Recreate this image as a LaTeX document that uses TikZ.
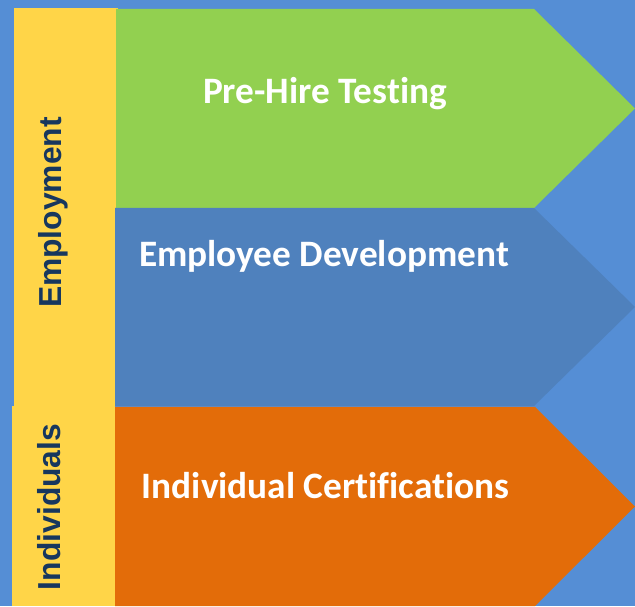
\documentclass[tikz,border=0pt]{standalone}
\usepackage{fontspec}
\setmainfont{Carlito}[Ligatures={NoCommon,NoContextual}]
\newfontfamily\sidefont{Liberation Sans}
\usepackage{xcolor}
\usepackage{tikz}

\definecolor{skyblue}{HTML}{558ED5}
\definecolor{devblue}{HTML}{4F81BD}
\definecolor{hiregreen}{HTML}{92D050}
\definecolor{certorange}{HTML}{E36C09}
\definecolor{sideyellow}{HTML}{FFD548}
\definecolor{navy}{HTML}{17375E}

\begin{document}
\begin{tikzpicture}[
  x=1pt, y=1pt,
  every node/.style={inner sep=0pt},
  stage/.style={font=\bfseries\fontsize{37.3}{42}\selectfont, text=white, anchor=base},
  group/.style={font=\sidefont\bfseries\fontsize{31.8}{36}\selectfont, text=navy, rotate=90, anchor=base},
]

\fill[skyblue] (0,0) rectangle (635,606);

\fill[sideyellow] (14,598) rectangle (118,200);
\fill[sideyellow] (12,200) rectangle (115,0);

\fill[hiregreen] (116,597) -- (534,597) -- (635,497.5) -- (534,398) -- (116,398) -- cycle;
\fill[devblue] (115,398) -- (534,398) -- (635,299) -- (534,200) -- (115,200) -- cycle;
\fill[certorange] (115,199) -- (535,199) -- (635,99.5) -- (535,0) -- (115,0) -- cycle;

\node[stage] (prehire) at (325,502.5) {Pre-Hire Testing};
\node[stage] (develop) at (324,339) {Employee Development};
\node[stage] (certify) at (325.5,108) {Individual Certifications};

\node[group] (employ) at (61,393.5) {Employment};
\node[group] (indiv) at (60,99) {Individuals};

\end{tikzpicture}
\end{document}
